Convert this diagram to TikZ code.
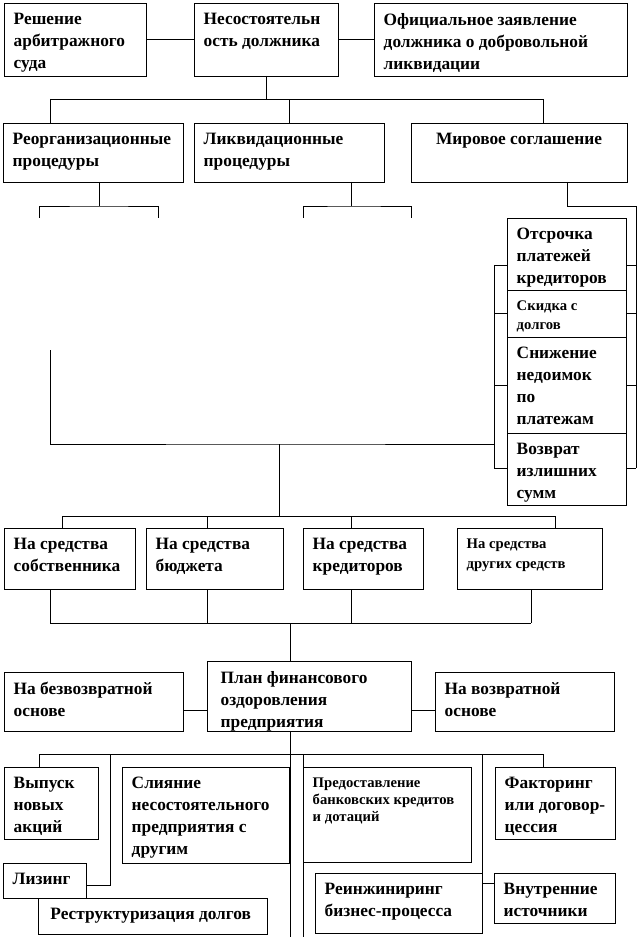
\documentclass[tikz,border=0pt]{standalone}
\usepackage{fontspec}
\setmainfont{Liberation Serif}
\usetikzlibrary{positioning, fit, calc}

\begin{document}
\begin{tikzpicture}[
    x=0.75pt, y=-0.75pt,
    line width=0.6pt,
    box/.style={draw, inner sep=0pt, outer sep=0pt},
    txt/.style={anchor=north west, align=left, inner xsep=7pt, inner ysep=7.5pt,
                font=\bfseries\fontsize{13}{16.5}\selectfont},
    txts/.style={txt, inner ysep=7.5pt, font=\bfseries\fontsize{11}{14.5}\selectfont},
  ]
  \useasboundingbox (0,0) rectangle (640,937);

  % top row
  \node[box, fit={(4,3) (146,76)},
        label={[txt]north west:Решение\\арбитражного\\суда}] (court) {};
  \node[box, fit={(194,3) (338,76)},
        label={[txt]north west:Несостоятельн\\ость должника}] (insolv) {};
  \node[box, fit={(374,3) (627,76)},
        label={[txt]north west:Официальное заявление\\должника о добровольной\\ликвидации}] (claim) {};

  % procedures
  \node[box, fit={(3,123) (183,182)},
        label={[txt]north west:Реорганизационные\\процедуры}] (reorg) {};
  \node[box, fit={(194,123) (384,182)},
        label={[txt]north west:Ликвидационные\\процедуры}] (liq) {};
  \node[box, fit={(411,123) (627,182)},
        label={[txt, anchor=north]north:Мировое соглашение}] (peace) {};

  % terms of the settlement
  \node[box, fit={(507,218) (626,290)},
        label={[txt]north west:Отсрочка\\платежей\\кредиторов}] (defer) {};
  \node[box, fit={(507,290) (626,337)},
        label={[txts]north west:Скидка с\\долгов}] (disc) {};
  \node[box, fit={(507,337) (626,433)},
        label={[txt]north west:Снижение\\недоимок\\по\\платежам}] (arrear) {};
  \node[box, fit={(507,433) (626,505)},
        label={[txt]north west:Возврат\\излишних\\сумм}] (refund) {};

  % sources of finance
  \node[box, fit={(4,528) (135,589)},
        label={[txt]north west:На средства\\собственника}] (owner) {};
  \node[box, fit={(146,528) (283,589)},
        label={[txt]north west:На средства\\бюджета}] (budget) {};
  \node[box, fit={(303,528) (423,589)},
        label={[txt]north west:На средства\\кредиторов}] (creds) {};
  \node[box, fit={(457,528) (602,589)},
        label={[txts, font=\bfseries\fontsize{11}{15}\selectfont]north west:На средства\\других средств}] (others) {};

  % plan row
  \node[box, fit={(4,672) (183,731)},
        label={[txt]north west:На безвозвратной\\основе}] (nonret) {};
  \node[box, fit={(207,661) (411,731)},
        label={[txt, inner xsep=10pt]north west:План финансового\\оздоровления\\предприятия}] (plan) {};
  \node[box, fit={(435,672) (614,731)},
        label={[txt]north west:На возвратной\\основе}] (ret) {};

  % measures
  \node[box, fit={(4,767) (98,839)},
        label={[txt]north west:Выпуск\\новых\\акций}] (shares) {};
  \node[box, fit={(122,767) (289,863)},
        label={[txt]north west:Слияние\\несостоятельного\\предприятия с\\другим}] (merge) {};
  \node[box, fit={(303,767) (471,862)},
        label={[txts, font=\bfseries\fontsize{11}{13}\selectfont]north west:Предоставление\\банковских кредитов\\и дотаций}] (bank) {};
  \node[box, fit={(495,767) (615,839)},
        label={[txt]north west:Факторинг\\или договор-\\цессия}] (factor) {};
  \node[box, fit={(3,863) (86,898)},
        label={[txt]north west:Лизинг}] (lease) {};
  \node[box, fit={(38,898) (267,934)},
        label={[txt, inner xsep=9pt]north west:Реструктуризация долгов}] (restr) {};
  \node[box, fit={(315,873) (482,933)},
        label={[txt]north west:Реинжиниринг\\бизнес-процесса}] (reeng) {};
  \node[box, fit={(494,873) (615,923)},
        label={[txt]north west:Внутренние\\источники}] (inner) {};

  % links between the top boxes
  \draw (court) -- (insolv);
  \draw (insolv) -- (claim);

  % first level of procedures
  \coordinate (bw) at (50,99);
  \coordinate (be) at (543,99);
  \draw (insolv.south) -- (insolv.south |- bw);
  \draw (bw) -- (be);
  \draw (bw) -- (bw |- reorg.north);
  \draw (liq.north) -- (liq.north |- bw);
  \draw (be) -- (be |- peace.north);

  % short forks under the procedures
  \coordinate (fa) at (99,206);
  \coordinate (fb) at (351,206);
  \coordinate (fc) at (567,206);
  \coordinate (fa1) at (39,218);
  \coordinate (fa2) at (158,218);
  \coordinate (fb1) at (303,218);
  \coordinate (fb2) at (411,218);
  \draw (fa |- reorg.south) -- (fa);
  \draw (fa1) |- (fa) -| (fa2);
  \draw (fb |- liq.south) -- (fb);
  \draw (fb1) |- (fb) -| (fb2);

  % bracket round the settlement terms
  \coordinate (lt) at (494,265);
  \coordinate (lb) at (494,468);
  \coordinate (rb) at (636,468);
  \draw (fc |- peace.south) -- (fc) -| (rb);
  \draw (lt) -- (lb);
  \foreach \b/\y in {defer/265, disc/313, arrear/385, refund/468}
    \draw (lt |- 0,\y) -- (\b.west |- 0,\y) (\b.east |- 0,\y) -- (rb |- 0,\y);

  % collecting line down to the sources of finance
  \coordinate (cv) at (50,350);
  \coordinate (cm) at (279,444);
  \coordinate (sm) at (279,516);
  \coordinate (sw) at (62,516);
  \coordinate (se) at (555,516);
  \draw (cv) |- (cm) -- (cm -| lt);
  \draw (cm) -- (sm);
  \draw (sw) -- (se);
  \foreach \b/\x in {owner/62, budget/207, creds/351, others/555}
    \draw (sw -| \x,0) -- (\b.north -| \x,0);

  % sources joined into the plan
  \coordinate (gm) at (290,623);
  \coordinate (gw) at (50,623);
  \coordinate (ge) at (531,623);
  \draw (gw) -- (ge);
  \foreach \b/\x in {owner/50, budget/207, creds/351, others/531}
    \draw (\b.south -| \x,0) -- (gw -| \x,0);
  \draw (gm) -- (gm |- plan.north);
  \draw (nonret.east |- 0,710) -- (plan.west |- 0,710);
  \draw (plan.east |- 0,710) -- (ret.west |- 0,710);

  % measures of the plan
  \coordinate (mm) at (290,754);
  \coordinate (mw) at (39,754);
  \coordinate (me) at (543,754);
  \coordinate (mb) at (290,937);
  \draw (plan.south -| mm) -- (mb);
  \draw (mw) -- (me);
  \draw (mw) -- (mw |- shares.north);
  \draw (me) -- (me |- factor.north);
  \draw (mw -| 110,0) |- (lease.east |- 0,885);
  \draw (mw -| bank.west) -- (mb -| bank.west);
  \draw (mw -| reeng.east) -- (reeng.north east);
  \draw (reeng.east |- 0,883) -- (inner.west |- 0,883);
\end{tikzpicture}
\end{document}
